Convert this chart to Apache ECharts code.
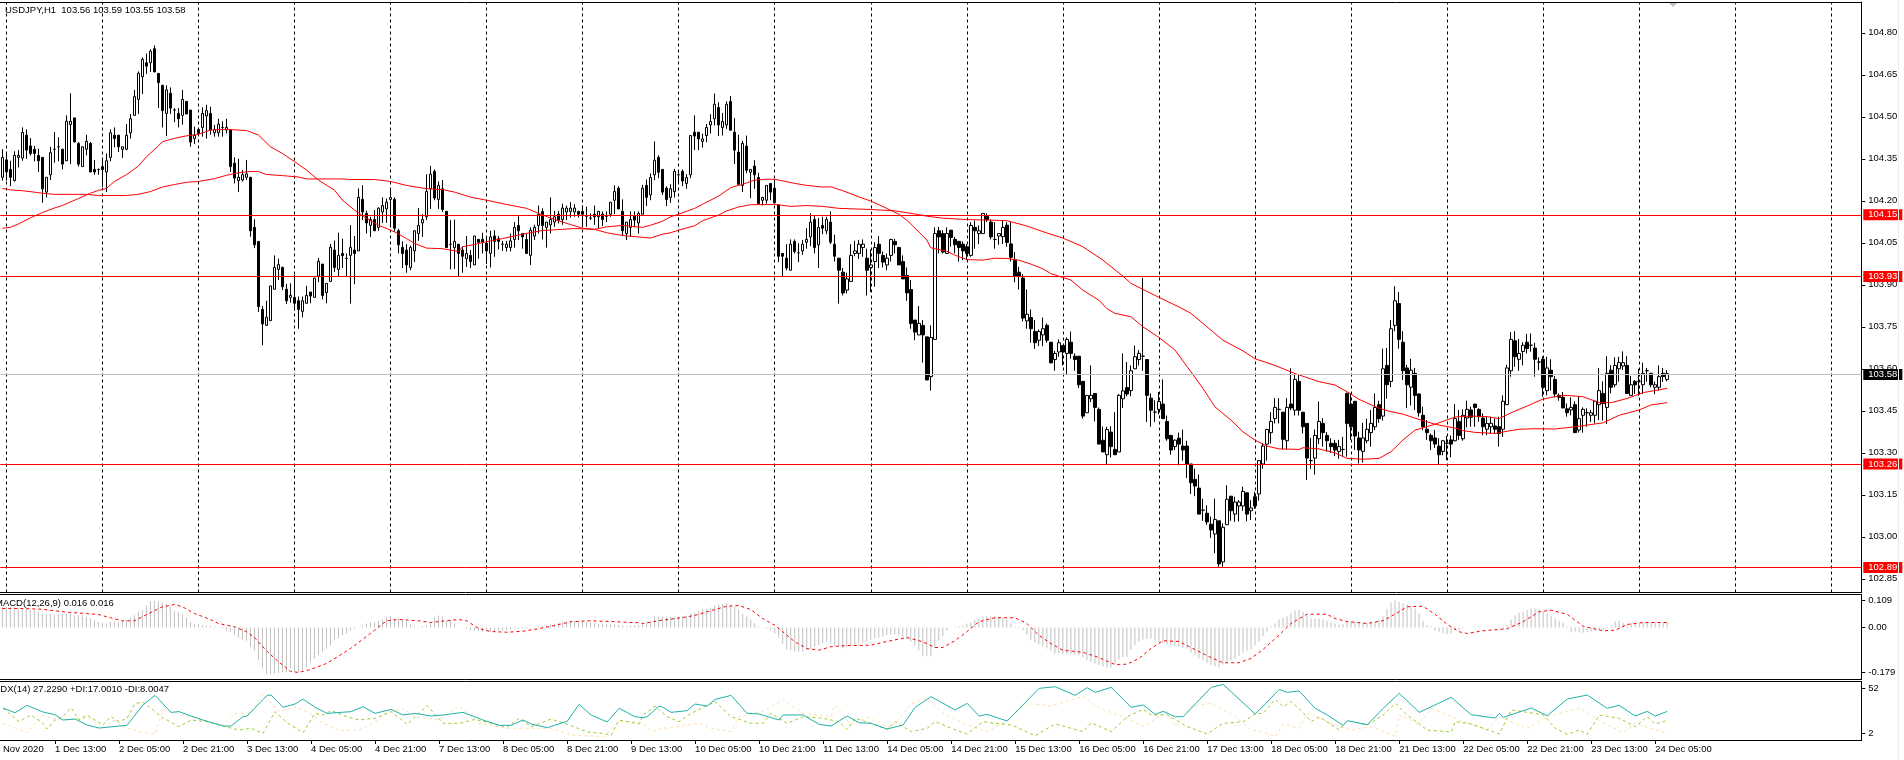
<!DOCTYPE html>
<html lang="en">
<head>
<meta charset="UTF-8">
<title>USDJPY,H1</title>
<script src="https://cdn.jsdelivr.net/npm/echarts@6/dist/echarts.min.js"></script>
<style>
    html, body { margin: 0; padding: 0; background: #fff; }
    #chart { width: 1904px; height: 760px; }
</style>
</head>
<body>
<div id="chart"></div>
<script type="text/javascript">
// candles, one value per hourly bar
var barOpen = [
104.284,104.346,104.312,104.272,104.355,104.353,104.434,104.396,104.384,104.362,
104.355,104.231,104.293,104.384,104.393,104.384,104.343,104.472,104.496,104.405,
104.322,104.384,104.405,104.312,104.312,104.322,104.303,104.355,104.434,104.434,
104.384,104.384,104.443,104.505,104.562,104.643,104.693,104.693,104.743,104.655,
104.612,104.512,104.584,104.524,104.512,104.505,104.555,104.524,104.422,104.455,
104.462,104.503,104.512,104.443,104.443,104.462,104.453,104.453,104.334,104.272,
104.274,104.284,104.284,104.105,104.055,103.812,103.755,103.772,103.884,103.955,
103.962,103.884,103.855,103.855,103.843,103.805,103.834,103.874,103.855,103.931,
103.974,103.872,103.912,104.024,103.955,104.012,103.994,104.005,104.024,104.021,
104.205,104.155,104.112,104.133,104.105,104.160,104.171,104.205,104.205,104.093,
104.033,104.024,103.962,104.021,104.083,104.121,104.143,104.243,104.305,104.205,
104.243,104.162,104.045,104.033,104.045,104.024,103.993,104.005,103.971,104.062,
104.062,104.048,104.012,104.074,104.064,104.045,104.033,104.033,104.062,104.112,
104.083,104.062,104.005,104.074,104.112,104.162,104.105,104.114,104.124,104.152,
104.133,104.160,104.162,104.160,104.162,104.162,104.145,104.138,104.152,104.143,
104.152,104.145,104.152,104.202,104.245,104.162,104.083,104.105,104.145,104.121,
104.152,104.255,104.221,104.293,104.355,104.312,104.245,104.212,104.233,104.293,
104.305,104.262,104.293,104.445,104.445,104.412,104.433,104.471,104.493,104.533,
104.462,104.471,104.555,104.445,104.374,104.255,104.395,104.302,104.324,104.283,
104.202,104.202,104.262,104.245,104.186,104.012,103.995,103.952,104.055,104.014,
104.021,104.052,104.071,104.133,104.043,104.112,104.093,104.124,104.045,103.995,
103.945,103.881,103.912,104.012,104.012,104.033,103.995,103.962,103.983,104.045,
104.005,103.971,104.005,104.055,104.033,103.983,103.933,103.883,103.774,103.721,
103.755,103.714,103.572,103.705,104.093,104.083,104.012,104.095,104.062,104.055,
104.045,104.036,104.005,104.105,104.083,104.083,104.145,104.124,104.062,104.074,
104.072,104.113,104.046,103.988,103.945,103.924,103.771,103.783,103.733,103.702,
103.721,103.755,103.695,103.633,103.660,103.683,103.655,103.695,103.645,103.645,
103.555,103.443,103.493,103.512,103.455,103.345,103.293,103.374,103.312,103.303,
103.493,103.533,103.522,103.600,103.633,103.645,103.633,103.495,103.445,103.455,
103.474,103.412,103.362,103.322,103.352,103.324,103.324,103.260,103.205,103.174,
103.095,103.084,103.045,103.010,103.057,102.910,103.043,103.145,103.081,103.110,
103.110,103.157,103.093,103.143,103.153,103.260,103.331,103.372,103.422,103.455,
103.445,103.343,103.474,103.452,103.555,103.445,103.405,103.272,103.281,103.350,
103.405,103.362,103.334,103.334,103.305,103.312,103.512,103.474,103.484,103.353,
103.305,103.343,103.372,103.393,103.472,103.431,103.612,103.555,103.755,103.833,
103.695,103.603,103.534,103.584,103.510,103.434,103.384,103.362,103.353,103.324,
103.305,103.334,103.346,103.343,103.412,103.350,103.424,103.453,103.474,103.455,
103.424,103.384,103.393,103.396,103.393,103.384,103.472,103.593,103.700,103.634,
103.662,103.695,103.684,103.674,103.624,103.634,103.522,103.595,103.562,103.505,
103.498,103.457,103.453,103.472,103.381,103.434,103.443,103.434,103.434,103.472,
103.512,103.462,103.595,103.543,103.600,103.610,103.612,103.505,103.555,103.555,
103.543,103.593,103.584,103.534,103.534,103.584,103.562];
var barHigh = [
104.384,104.374,104.343,104.377,104.381,104.462,104.455,104.424,104.396,104.386,
104.355,104.284,104.393,104.446,104.427,104.386,104.505,104.584,104.496,104.410,
104.393,104.436,104.410,104.346,104.315,104.346,104.369,104.455,104.462,104.436,
104.393,104.474,104.510,104.596,104.662,104.712,104.726,104.741,104.755,104.655,
104.615,104.612,104.605,104.531,104.531,104.596,104.555,104.524,104.465,104.457,
104.534,104.543,104.536,104.471,104.493,104.484,104.493,104.453,104.355,104.350,
104.310,104.346,104.284,104.134,104.055,103.824,103.843,103.896,104.005,103.993,
103.965,103.903,103.905,103.936,103.858,103.858,103.896,103.874,103.924,103.996,
103.974,103.905,104.046,104.058,104.086,104.065,104.012,104.113,104.074,104.244,
104.256,104.164,104.143,104.167,104.176,104.212,104.208,104.243,104.212,104.100,
104.055,104.045,104.040,104.095,104.174,104.152,104.295,104.324,104.312,104.269,
104.274,104.164,104.131,104.133,104.045,104.036,104.074,104.024,104.074,104.064,
104.086,104.071,104.093,104.095,104.074,104.057,104.057,104.083,104.124,104.145,
104.083,104.083,104.105,104.114,104.183,104.173,104.124,104.212,104.164,104.164,
104.190,104.183,104.195,104.188,104.164,104.183,104.179,104.155,104.183,104.164,
104.162,104.162,104.195,104.255,104.252,104.205,104.124,104.162,104.162,104.162,
104.257,104.276,104.298,104.412,104.362,104.312,104.252,104.259,104.314,104.309,
104.312,104.295,104.433,104.505,104.445,104.440,104.474,104.509,104.583,104.552,
104.514,104.555,104.574,104.495,104.436,104.414,104.433,104.312,104.345,104.300,
104.214,104.255,104.262,104.276,104.186,104.012,104.045,104.062,104.062,104.048,
104.060,104.102,104.155,104.145,104.138,104.143,104.143,104.162,104.079,103.995,
103.960,103.943,104.045,104.057,104.060,104.062,104.029,104.026,104.052,104.074,
104.019,104.012,104.064,104.064,104.036,104.005,103.962,103.917,103.774,103.824,
103.774,103.714,103.755,104.105,104.107,104.095,104.105,104.095,104.071,104.057,
104.055,104.045,104.124,104.129,104.112,104.155,104.155,104.133,104.124,104.083,
104.129,104.124,104.124,104.017,103.964,103.938,103.883,103.812,103.774,103.740,
103.783,103.762,103.695,103.664,103.705,103.683,103.712,103.733,103.655,103.645,
103.555,103.505,103.612,103.512,103.462,103.393,103.393,103.395,103.445,103.510,
103.655,103.624,103.612,103.683,103.667,103.924,103.633,103.512,103.488,103.517,
103.562,103.433,103.364,103.348,103.372,103.383,103.343,103.260,103.243,103.222,
103.136,103.112,103.072,103.136,103.057,103.048,103.184,103.145,103.143,103.131,
103.179,103.157,103.131,103.161,103.274,103.333,103.386,103.445,103.495,103.495,
103.445,103.495,103.602,103.583,103.579,103.445,103.405,103.353,103.383,103.483,
103.424,103.374,103.352,103.346,103.346,103.357,103.515,103.512,103.484,103.375,
103.407,103.422,103.453,103.512,103.486,103.672,103.674,103.774,103.895,103.874,
103.734,103.614,103.636,103.603,103.512,103.465,103.417,103.369,103.381,103.352,
103.346,103.360,103.362,103.474,103.453,103.455,103.486,103.465,103.474,103.459,
103.441,103.429,103.429,103.423,103.429,103.505,103.614,103.731,103.734,103.707,
103.695,103.724,103.726,103.693,103.641,103.645,103.643,103.634,103.574,103.512,
103.517,103.476,103.498,103.484,103.503,103.462,103.459,103.453,103.484,103.603,
103.555,103.645,103.613,103.641,103.643,103.662,103.645,103.574,103.560,103.600,
103.622,103.603,103.584,103.554,103.612,103.603,103.595];
var barLow = [
104.272,104.272,104.253,104.269,104.319,104.343,104.350,104.362,104.341,104.303,
104.193,104.212,104.274,104.336,104.341,104.312,104.343,104.331,104.410,104.322,
104.322,104.362,104.303,104.293,104.293,104.250,104.231,104.341,104.391,104.374,
104.353,104.381,104.422,104.505,104.510,104.581,104.653,104.660,104.660,104.531,
104.462,104.431,104.510,104.481,104.462,104.472,104.510,104.393,104.403,104.435,
104.429,104.422,104.436,104.429,104.429,104.429,104.441,104.303,104.262,104.231,
104.269,104.274,104.072,104.031,103.803,103.684,103.753,103.772,103.884,103.917,
103.881,103.831,103.836,103.808,103.743,103.784,103.834,103.834,103.855,103.910,
103.848,103.834,103.910,103.946,103.931,103.960,103.931,103.833,103.902,104.021,
104.131,104.083,104.071,104.093,104.093,104.121,104.121,104.105,104.090,104.012,
103.960,103.943,103.952,103.981,104.057,104.071,104.131,104.171,104.202,104.171,
104.160,104.033,103.955,103.957,103.931,103.943,103.964,103.960,103.971,103.993,
104.012,103.974,103.962,104.000,104.026,104.021,104.019,104.019,104.033,104.060,
104.029,104.012,103.971,104.060,104.083,104.062,104.033,104.083,104.107,104.119,
104.114,104.131,104.140,104.143,104.140,104.105,104.107,104.131,104.114,104.102,
104.110,104.124,104.143,104.152,104.171,104.074,104.060,104.071,104.105,104.083,
104.152,104.181,104.202,104.274,104.281,104.221,104.181,104.193,104.212,104.262,
104.252,104.243,104.281,104.381,104.381,104.390,104.409,104.440,104.469,104.431,
104.433,104.457,104.452,104.331,104.259,104.231,104.298,104.209,104.243,104.190,
104.183,104.190,104.202,104.190,103.981,103.931,103.952,103.952,104.012,103.981,
104.007,104.029,104.038,104.012,103.960,104.081,104.081,104.045,103.983,103.833,
103.862,103.869,103.912,104.002,103.993,104.000,103.862,103.874,103.893,103.960,
103.962,103.952,103.983,104.012,103.971,103.921,103.843,103.743,103.702,103.721,
103.622,103.560,103.522,103.705,104.012,104.012,104.010,104.036,104.012,103.983,
103.988,103.988,104.000,104.029,104.045,104.083,104.124,104.062,104.029,104.043,
104.046,104.036,103.983,103.909,103.883,103.769,103.743,103.693,103.671,103.681,
103.681,103.693,103.621,103.593,103.643,103.612,103.581,103.636,103.593,103.531,
103.422,103.443,103.481,103.412,103.331,103.303,103.260,103.283,103.293,103.303,
103.460,103.502,103.502,103.600,103.612,103.593,103.410,103.393,103.410,103.438,
103.422,103.343,103.293,103.310,103.255,103.272,103.210,103.153,103.145,103.081,
103.057,103.043,102.996,102.941,102.893,102.893,103.043,103.057,103.053,103.055,
103.093,103.055,103.060,103.100,103.129,103.243,103.272,103.333,103.405,103.405,
103.312,103.312,103.452,103.433,103.433,103.369,103.203,103.243,103.222,103.331,
103.322,103.304,103.300,103.288,103.279,103.286,103.286,103.346,103.310,103.262,
103.265,103.334,103.322,103.381,103.407,103.415,103.493,103.534,103.734,103.672,
103.560,103.460,103.469,103.453,103.429,103.381,103.346,103.310,103.317,103.260,
103.291,103.274,103.284,103.341,103.346,103.343,103.391,103.393,103.393,103.411,
103.363,103.363,103.369,103.367,103.322,103.357,103.472,103.572,103.607,103.593,
103.612,103.655,103.661,103.572,103.595,103.500,103.505,103.522,103.498,103.486,
103.460,103.429,103.434,103.372,103.372,103.372,103.393,103.410,103.405,103.417,
103.415,103.403,103.512,103.534,103.554,103.595,103.512,103.503,103.510,103.503,
103.510,103.554,103.534,103.510,103.522,103.553,103.555];
var barClose = [
104.355,104.303,104.284,104.362,104.362,104.444,104.381,104.369,104.369,104.343,
104.243,104.284,104.372,104.384,104.393,104.331,104.484,104.484,104.410,104.331,
104.393,104.412,104.303,104.303,104.312,104.312,104.343,104.443,104.422,104.393,
104.393,104.434,104.493,104.572,104.655,104.705,104.681,104.734,104.660,104.622,
104.522,104.596,104.531,104.524,104.493,104.562,104.510,104.410,104.434,104.441,
104.512,104.522,104.453,104.455,104.474,104.462,104.462,104.322,104.281,104.284,
104.293,104.296,104.093,104.043,103.822,103.760,103.784,103.896,103.962,103.972,
103.893,103.843,103.862,103.834,103.812,103.843,103.862,103.860,103.924,103.984,
103.862,103.905,104.034,103.962,104.005,104.004,103.994,104.033,104.012,104.212,
104.160,104.121,104.133,104.093,104.174,104.183,104.195,104.212,104.102,104.043,
104.012,103.971,104.033,104.093,104.112,104.133,104.233,104.295,104.210,104.255,
104.169,104.033,104.045,104.055,104.012,104.002,104.012,103.983,104.074,104.052,
104.052,104.021,104.071,104.055,104.055,104.045,104.045,104.057,104.105,104.093,
104.071,104.012,104.095,104.105,104.152,104.112,104.124,104.133,104.143,104.131,
104.174,104.174,104.174,104.174,104.152,104.152,104.145,104.138,104.143,104.162,
104.133,104.145,104.195,104.233,104.171,104.093,104.124,104.133,104.131,104.155,
104.245,104.212,104.283,104.345,104.302,104.231,104.205,104.243,104.305,104.293,
104.271,104.283,104.433,104.431,104.421,104.421,104.462,104.483,104.545,104.471,
104.483,104.545,104.452,104.381,104.259,104.405,104.309,104.312,104.293,104.190,
104.212,104.255,104.231,104.193,104.002,104.002,103.960,104.045,104.019,104.014,
104.045,104.062,104.124,104.033,104.105,104.102,104.133,104.052,104.002,103.952,
103.871,103.921,104.005,104.021,104.045,104.045,103.952,103.971,104.033,104.012,
103.981,103.995,104.062,104.043,103.971,103.921,103.871,103.762,103.731,103.762,
103.721,103.560,103.712,104.083,104.071,104.017,104.083,104.069,104.043,104.033,
104.021,104.012,104.112,104.093,104.093,104.155,104.133,104.071,104.062,104.083,
104.105,104.051,103.998,103.931,103.931,103.781,103.795,103.743,103.693,103.733,
103.743,103.702,103.621,103.655,103.693,103.660,103.705,103.655,103.633,103.543,
103.431,103.505,103.505,103.462,103.331,103.303,103.383,103.322,103.293,103.505,
103.521,103.510,103.593,103.643,103.655,103.645,103.505,103.452,103.445,103.483,
103.422,103.350,103.310,103.345,103.331,103.310,103.260,103.193,103.181,103.081,
103.095,103.053,103.024,103.062,102.903,103.034,103.134,103.093,103.124,103.124,
103.162,103.081,103.103,103.110,103.272,103.324,103.383,103.412,103.462,103.455,
103.348,103.462,103.460,103.562,103.452,103.393,103.281,103.272,103.362,103.412,
103.372,103.343,103.322,103.310,103.322,103.312,103.405,103.393,103.360,103.310,
103.353,103.384,103.405,103.462,103.422,103.600,103.543,103.743,103.843,103.705,
103.593,103.543,103.595,103.505,103.443,103.393,103.372,103.343,103.331,103.293,
103.343,103.334,103.331,103.422,103.362,103.434,103.455,103.427,103.462,103.429,
103.393,103.405,103.405,103.384,103.369,103.484,103.603,103.705,103.643,103.655,
103.684,103.672,103.684,103.634,103.624,103.534,103.603,103.572,103.510,103.498,
103.460,103.443,103.462,103.372,103.422,103.455,103.443,103.443,103.484,103.522,
103.476,103.584,103.534,103.612,103.622,103.622,103.512,103.543,103.543,103.555,
103.584,103.593,103.543,103.543,103.572,103.572,103.583];

// moving averages, read at the bends of each line
var maFastBars = [0,2,4,7,10,13,15,19,22,24,26,28,31,34,36,39,40,43,46,49,52,56,61,64,67,70,73,76,79,83,85,88,91,94,98,101,103,106,110,114,115,118,121,125,130,133,135,140,143,148,151,155,160,162,165,167,169,173,175,179,182,185,188,191,193,198,201,205,207,210,214,217,221,224,226,229,231,232,236,238,241,245,248,251,254,257,260,262,265,267,270,274,276,278,282,285,289,293,297,300,303,307,310,313,316,319,324,325,329,333,336,340,344,347,350,353,358,363,367,371,374,377,381,385,389,391,395,399,402,406,410,416];
var maFastValues = [104.102,104.105,104.117,104.139,104.158,104.174,104.183,104.208,104.227,104.237,104.244,104.269,104.293,104.324,104.357,104.396,104.411,104.423,104.432,104.437,104.453,104.455,104.451,104.435,104.393,104.369,104.340,104.310,104.274,104.238,104.202,104.167,104.137,104.113,104.089,104.065,104.048,104.031,104.029,104.019,104.036,104.044,104.054,104.065,104.081,104.089,104.094,104.098,104.101,104.098,104.107,104.112,104.105,104.113,104.127,104.143,104.152,104.173,104.188,104.217,104.247,104.259,104.274,104.277,104.277,104.262,104.255,104.249,104.250,104.236,104.214,104.199,104.173,104.152,104.131,104.089,104.060,104.032,104.020,104.006,103.990,103.988,103.995,103.994,103.988,103.974,103.957,103.940,103.926,103.917,103.881,103.845,103.815,103.798,103.786,103.750,103.712,103.667,103.589,103.530,103.464,103.417,103.375,103.345,103.324,103.314,103.312,103.318,103.314,103.300,103.280,103.277,103.280,103.304,103.346,103.381,103.402,103.428,103.431,103.429,103.422,103.443,103.467,103.492,103.503,103.505,103.500,103.479,103.479,103.494,103.515,103.530];
var maSlowBars = [0,2,5,8,10,13,21,24,31,34,37,40,43,46,49,53,56,59,62,64,66,70,74,76,83,85,87,93,97,101,106,110,113,117,121,126,131,134,138,142,145,148,151,155,162,165,167,169,173,175,179,181,184,187,193,197,201,205,209,217,223,228,231,235,241,249,251,256,261,265,270,275,280,282,289,294,297,300,305,310,313,318,323,329,333,336,339,343,346,350,354,358,363,365,368,373,376,379,383,388,393,396,400,404,409,412,416];
var maSlowValues = [104.244,104.239,104.236,104.231,104.227,104.223,104.223,104.219,104.219,104.223,104.233,104.249,104.258,104.266,104.269,104.279,104.291,104.300,104.305,104.304,104.294,104.290,104.285,104.278,104.278,104.278,104.276,104.276,104.269,104.255,104.243,104.240,104.231,104.213,104.202,104.187,104.173,104.155,104.133,104.115,104.102,104.098,104.086,104.076,104.067,104.081,104.086,104.095,104.111,104.129,104.149,104.164,104.178,104.186,104.187,104.180,104.183,104.180,104.173,104.169,104.164,104.153,104.145,104.138,104.133,104.130,104.129,104.110,104.085,104.067,104.036,103.988,103.931,103.905,103.855,103.821,103.798,103.762,103.702,103.664,103.636,103.612,103.583,103.554,103.542,103.518,103.491,103.465,103.450,103.438,103.419,103.402,103.388,103.379,103.373,103.369,103.377,103.384,103.386,103.385,103.393,103.399,103.407,103.434,103.453,103.471,103.479];

// horizontal levels of the price pane
var levelValues = [104.15, 103.93, 103.26, 102.89];
var lastPrice = 103.58;
var priceTicks = [102.85,103.00,103.15,103.30,103.45,103.60,103.75,103.90,104.05,104.20,104.35,104.50,104.65,104.80];

// time axis
var firstAxisLabel = 'Nov 2020';
var timeLabels = ['1 Dec 13:00','2 Dec 05:00','2 Dec 21:00','3 Dec 13:00','4 Dec 05:00','4 Dec 21:00','7 Dec 13:00','8 Dec 05:00','8 Dec 21:00','9 Dec 13:00','10 Dec 05:00','10 Dec 21:00','11 Dec 13:00','14 Dec 05:00','14 Dec 21:00','15 Dec 13:00','16 Dec 05:00','16 Dec 21:00','17 Dec 13:00','18 Dec 05:00','18 Dec 21:00','21 Dec 13:00','22 Dec 05:00','22 Dec 21:00','23 Dec 13:00','24 Dec 05:00'];

// MACD histogram, one value per bar, and its signal line
var macdHist = [
.083,.083,.083,.083,.080,.077,.077,.072,.069,.063,
.056,.053,.053,.053,.056,.056,.056,.056,.049,.049,
.049,.043,.036,.029,.023,.019,.016,.023,.023,.023,
.027,.032,.040,.049,.064,.069,.089,.104,.107,.105,
.100,.093,.080,.067,.061,.053,.040,.023,.016,.013,
.009,.008,.007,.003,.001,-.003,-.011,-.017,-.031,-.040,
-.048,-.053,-.077,-.091,-.131,-.164,-.184,-.189,-.184,-.181,
-.179,-.179,-.164,-.177,-.177,-.171,-.157,-.137,-.124,-.111,
-.097,-.084,-.071,-.051,-.044,-.031,-.024,-.011,-.004,0,
.005,.016,.021,.021,.027,.032,.040,.045,.035,.036,
.032,.023,.013,.005,.003,.005,.008,.019,.040,.048,
.043,.027,.029,.016,0,0,-.005,-.011,-.013,-.013,
-.017,-.017,-.017,-.017,-.013,-.013,-.011,-.008,-.005,-.005,
-.005,-.004,-.003,-.001,.003,.005,.008,.013,.016,.019,
.021,.024,.027,.027,.024,.024,.021,.021,.019,.016,
.016,.013,.013,.013,.011,.008,.005,.008,.008,.011,
.013,.019,.027,.045,.043,.043,.043,.043,.043,.043,
.045,.048,.056,.059,.067,.073,.075,.080,.087,.093,
.094,.096,.090,.083,.072,.056,.045,.032,.016,.003,
-.001,-.005,-.011,-.024,-.040,-.064,-.088,-.092,-.096,-.097,
-.097,-.091,-.084,-.077,-.071,-.063,-.057,-.064,-.071,-.077,
-.084,-.077,-.071,-.067,-.064,-.060,-.057,-.051,-.044,-.040,
-.037,-.031,-.028,-.028,-.031,-.037,-.044,-.057,-.071,-.091,
-.115,-.115,-.115,-.077,-.051,-.035,-.013,0,.003,.005,
.008,.016,.021,.029,.035,.043,.045,.045,.045,.043,
.037,.032,.016,.003,-.003,-.011,-.029,-.051,-.059,-.067,
-.075,-.084,-.093,-.104,-.104,-.107,-.107,-.107,-.109,-.111,
-.120,-.131,-.137,-.144,-.151,-.157,-.160,-.161,-.145,-.128,
-.119,-.117,-.090,-.070,-.057,-.048,-.044,-.045,-.048,-.059,
-.064,-.067,-.071,-.075,-.077,-.081,-.084,-.100,-.111,-.123,
-.131,-.143,-.151,-.156,-.160,-.148,-.137,-.131,-.124,-.113,
-.101,-.093,-.088,-.072,-.057,-.035,-.017,.005,.016,.032,
.040,.045,.059,.069,.072,.063,.045,.037,.035,.035,
.032,.027,.020,.016,.012,.013,.021,.024,.024,.021,
.019,.019,.021,.023,.032,.045,.072,.101,.109,.103,
.096,.093,.085,.076,.056,.027,.009,.005,-.013,-.017,
-.024,-.027,-.024,-.013,-.011,-.003,0,0,.003,.003,
0,0,.001,0,-.003,-.005,.011,.032,.049,.059,
.063,.069,.076,.076,.072,.067,.056,.045,.035,.027,
.019,.003,-.019,-.016,-.019,-.021,-.019,-.016,-.013,-.013,
-.011,.003,.008,.024,.027,.019,.016,.016,.016,.016,
.019,.021,.021,.019,.019,.020,.019];
var macdSignalBars = [0,2,5,10,13,17,21,24,27,30,33,35,38,40,43,45,48,52,54,58,61,63,66,69,72,74,77,81,84,87,90,93,96,99,104,107,111,114,116,119,122,126,130,134,138,142,147,152,159,160,164,170,173,177,181,184,187,190,193,195,198,201,204,207,211,217,221,226,230,233,235,238,241,244,248,253,256,259,262,265,270,274,278,281,284,287,290,294,298,302,305,309,312,315,319,322,326,331,333,336,341,345,348,351,355,358,361,364,366,370,376,380,384,387,391,395,400,403,406,410,416];
var macdSignalValues = [.076,.076,.076,.073,.067,.060,.056,.052,.039,.027,.027,.043,.067,.083,.092,.083,.056,.032,.016,.003,-.017,-.040,-.093,-.137,-.175,-.180,-.168,-.144,-.115,-.084,-.048,-.011,.027,.032,.027,.020,.027,.032,.027,-.004,-.016,-.019,-.015,-.005,.008,.023,.027,.024,.019,.016,.027,.040,.048,.067,.085,.088,.072,.036,.009,-.017,-.057,-.084,-.091,-.077,-.072,-.071,-.056,-.040,-.057,-.080,-.080,-.053,-.017,.023,.039,.039,.016,-.031,-.064,-.091,-.099,-.120,-.148,-.147,-.124,-.084,-.053,-.056,-.088,-.120,-.141,-.141,-.124,-.088,-.031,.016,.053,.053,.036,.024,.016,.027,.053,.083,.085,.053,.013,-.017,-.024,-.013,-.005,.023,.063,.069,.053,.005,-.013,-.011,.012,.020,.020];
var macdTicks = [-0.179, 0, 0.109];
var macdTickLabels = ['-0.179', '0.00', '0.109'];

// ADX lines, read at the bends
var adxBars = [0,3,6,10,13,15,18,21,24,29,31,35,38,42,44,47,50,55,57,60,61,66,67,70,73,75,78,81,87,90,93,97,100,103,107,110,115,120,124,127,130,132,136,141,144,147,151,154,158,160,161,164,165,167,171,173,176,178,182,186,189,194,195,200,204,207,211,214,217,221,225,228,232,238,241,244,246,251,259,263,268,271,273,277,282,285,288,290,293,295,302,305,313,315,319,321,324,328,331,335,336,341,345,349,354,362,367,373,374,375,382,386,391,396,401,404,408,411,413,416];
var adxValues = [30.1,24.9,33.1,25.7,22.7,16.8,17.9,11.3,7.9,10.1,10.9,33.5,44.2,25.3,26.1,21.2,16.8,10.1,10.1,20.5,21.2,44.2,44.6,30.9,34.6,40.1,30.9,24.2,26.1,31.6,24.2,28.6,22.4,24.2,21.2,22.4,25.3,16.8,10.9,10.9,16.8,12.4,8.3,15.3,34.2,22.4,14.6,29.8,20.5,19.4,20.5,32.3,30.9,25.3,27.2,34.6,32.3,39.7,44.2,24.2,23.5,16.8,22.4,22.4,12,10.1,21.2,13.8,13.1,6.8,11.3,30.9,42.7,27.9,35.3,21.2,23.1,15.7,52,53.8,44.2,52.7,47.5,53.1,30.9,33.5,23.1,26.4,20.5,20.5,53.1,56.4,23.5,32.3,50.8,47.5,49,29.8,22.4,10.9,16.1,11.6,29.8,46.4,25.3,42,22.7,19,24.2,19.8,30.1,21.6,40.1,44.6,29.8,33.1,21.2,26.4,21.2,26.4];
var plusDiBars = [0,1,4,7,10,11,13,15,17,19,21,23,25,27,29,31,33,35,37,40,41,44,47,51,55,59,62,65,68,71,75,78,80,82,86,89,93,97,101,106,110,114,118,122,126,129,132,137,142,146,150,152,154,159,160,163,166,169,172,178,182,187,190,192,196,200,205,209,211,213,217,221,223,227,231,233,237,241,245,248,252,258,263,270,272,277,281,285,287,291,296,301,305,310,313,315,318,320,322,325,327,329,334,336,341,345,348,351,356,362,363,367,374,377,380,385,388,391,394,396,399,404,408,411,413,416];
var plusDiValues = [29.8,26.1,15,22.4,13.1,6.8,16.8,20.5,30.5,16.8,22.4,16.8,11.3,20.5,15,18.7,35.3,36.4,29.8,18.7,16.8,9.4,16.8,15,10.1,5.7,7.6,2,26.1,13.8,2.7,24.2,22.4,27.2,20.5,16.8,18.7,26.1,12,32.7,13.1,13.1,17.5,13.1,8.7,18.7,9.4,17.9,10.5,3.5,2,-0.2,16.8,12.4,22.4,32.3,20.5,15,24.2,37.2,20.5,13.1,13.1,24.2,13.1,20.5,18.7,15,6.4,18.7,13.1,6.4,15,3.9,7.6,15,7.6,1.3,15,13.1,11.3,-0.6,12.4,3.9,13.8,3.9,20.5,28.6,22.4,22.4,9.4,1.3,13.1,15,23.5,24.2,39.7,31.6,37.2,24.9,15,20.5,5.7,16.1,11.3,22.4,35.3,22.4,5.7,3.5,15,12.4,1.3,27.9,26.1,22.4,7.6,0.9,5.7,0.9,22.4,18.7,9.4,20.5,12.4,16.4];
var minusDiBars = [0,2,6,10,14,18,22,25,28,30,34,38,40,43,48,55,58,62,65,69,73,76,80,84,89,93,96,100,103,109,114,119,126,132,137,142,150,154,159,160,162,165,169,174,177,182,184,190,195,200,207,208,212,216,222,227,231,235,241,246,251,256,262,270,274,280,285,291,293,297,302,308,312,315,318,320,324,326,332,337,342,348,349,354,357,364,371,374,381,386,394,401,405,408,413,416];
var minusDiValues = [13.1,10.1,2.7,22.4,16.8,18.7,18.7,7.6,16.8,9.4,3.9,0.9,27.9,24.2,18.7,11.3,24.2,24.2,45.7,26.1,31.6,26.1,13.1,5,5.7,15,24.2,29.8,20.5,16.8,32.3,13.1,7.6,7.6,7.6,0.2,-1.7,15,15,13.1,3.9,7.6,9.4,13.1,7.6,3.9,20.5,26.8,39,24.2,20.5,33.5,11.3,19.8,7.6,34.6,40.9,24.2,11.3,3.9,16.8,35.3,32.3,43.4,29.8,20.5,9.4,26.1,9.4,32.3,35.3,20.5,5.7,3.9,-1.7,12.4,7.6,24.2,13.1,5.7,9.4,-1,22.4,12.4,29.8,16.8,5.7,20.5,7.6,20.5,29.8,11.3,2.7,13.1,5.7,2.7];
var adxTicks = [2, 52];

var title = 'USDJPY,H1  103.56 103.59 103.55 103.58';
var macdTitle = 'MACD(12,26,9) 0.016 0.016';
var adxTitle = 'ADX(14) 27.2290 +DI:17.0010 -DI:8.0047';

var barCount = 465;
var labelFont = '"Liberation Sans", sans-serif';
var labelSize = 9.5;

var categories = [];
var tickBars = {};
for (var i = 0; i < barCount; i++) categories.push('');
categories[0] = firstAxisLabel;
timeLabels.forEach(function (t, n) {
    categories[13 + 16 * n] = t;
    tickBars[13 + 16 * n] = true;
});

// day separators every 24 bars
var separatorLines = [];
for (var b = 1; b < barCount; b += 24) separatorLines.push({xAxis: b});

function zip(bars, values) {
    return bars.map(function (b, n) { return [b, values[n]]; });
}

var candleData = barOpen.map(function (o, n) {
    return [o, barClose[n], barLow[n], barHigh[n]];
});

function tagLine(value, back) {
    return {
        yAxis: value,
        lineStyle: {color: back === '#000000' ? '#c0c0c0' : '#ff0000', width: 1, type: 'solid'},
        label: {
            show: true, position: 'end', distance: 2, formatter: value.toFixed(2),
            color: '#ffffff', backgroundColor: back, padding: [1, 5, 0, 5],
            fontSize: labelSize, fontFamily: labelFont, lineHeight: 10
        }
    };
}

function axisX(index, showLabels) {
    return {
        type: 'category', gridIndex: index, data: categories, boundaryGap: true,
        axisLine: {show: false, onZero: false},
        axisTick: {
            show: showLabels, alignWithLabel: true, length: 4, lineStyle: {color: '#000'},
            interval: function (n) { return !!tickBars[n]; }
        },
        axisLabel: {
            show: showLabels, align: 'left', margin: 4, color: '#000', fontSize: labelSize, fontFamily: labelFont,
            showMinLabel: true, showMaxLabel: true,
            interval: function (n) { return n === 0 || !!tickBars[n]; }
        },
        splitLine: {show: false}
    };
}

function axisY(index, min, max, ticks, fmt) {
    return {
        type: 'value', gridIndex: index, position: 'right', min: min, max: max, scale: true,
        axisLine: {show: true, lineStyle: {color: '#000', width: 1}},
        axisTick: {show: true, length: 4, lineStyle: {color: '#000'}, customValues: ticks},
        axisLabel: {
            show: true, margin: 7, color: '#000', fontSize: labelSize, fontFamily: labelFont,
            customValues: ticks, formatter: fmt
        },
        splitLine: {show: false}
    };
}

function rule(y) {
    return {type: 'line', z: 20, shape: {x1: 0, y1: y, x2: 1862, y2: y}, style: {stroke: '#000', lineWidth: 1}};
}

var chart = echarts.init(document.getElementById('chart'));
chart.setOption({
    animation: false,
    backgroundColor: '#ffffff',
    grid: [
        {left: 0.3, width: 1861, top: 2, height: 590.5},
        {left: 0.3, width: 1861, top: 594.5, height: 84.5},
        {left: 0.3, width: 1861, top: 681.5, height: 58.5}
    ],
    xAxis: [axisX(0, false), axisX(1, false), axisX(2, true)],
    yAxis: [
        axisY(0, 102.801, 104.91, priceTicks, function (v) { return v.toFixed(2); }),
        axisY(1, -0.206, 0.132, macdTicks, function (v) { return macdTickLabels[macdTicks.indexOf(v)]; }),
        axisY(2, -5.4, 59.6, adxTicks, function (v) { return String(v); })
    ],
    series: [
        {
            type: 'line', xAxisIndex: 0, yAxisIndex: 0, data: [], z: 1,
            markLine: {
                silent: true, symbol: ['none', 'none'], z: 1, label: {show: false},
                lineStyle: {color: '#000', type: [3, 3], width: 1},
                data: separatorLines
            }
        },
        {
            type: 'candlestick', xAxisIndex: 0, yAxisIndex: 0, data: candleData, z: 3, barWidth: 3,
            itemStyle: {color: '#ffffff', color0: '#000000', borderColor: '#000000', borderColor0: '#000000', borderWidth: 1},
            markLine: {
                silent: true, symbol: ['none', 'none'], z: 6,
                data: levelValues.map(function (v) { return tagLine(v, '#ff0000'); }).concat([tagLine(lastPrice, '#000000')])
            }
        },
        {
            type: 'line', xAxisIndex: 0, yAxisIndex: 0, data: zip(maFastBars, maFastValues), z: 5,
            showSymbol: false, lineStyle: {color: '#ff0000', width: 1}
        },
        {
            type: 'line', xAxisIndex: 0, yAxisIndex: 0, data: zip(maSlowBars, maSlowValues), z: 5,
            showSymbol: false, lineStyle: {color: '#ff0000', width: 1}
        },
        {
            type: 'bar', xAxisIndex: 1, yAxisIndex: 1, data: macdHist, barWidth: 1,
            itemStyle: {color: '#c0c0c0'}
        },
        {
            type: 'line', xAxisIndex: 1, yAxisIndex: 1, data: zip(macdSignalBars, macdSignalValues), z: 4,
            showSymbol: false, lineStyle: {color: '#ff0000', width: 1, type: [3, 3]}
        },
        {
            type: 'line', xAxisIndex: 2, yAxisIndex: 2, data: zip(minusDiBars, minusDiValues),
            showSymbol: false, lineStyle: {color: '#ffdead', width: 1, type: [3, 3]}
        },
        {
            type: 'line', xAxisIndex: 2, yAxisIndex: 2, data: zip(plusDiBars, plusDiValues),
            showSymbol: false, lineStyle: {color: '#9acd32', width: 1, type: [3, 3]}
        },
        {
            type: 'line', xAxisIndex: 2, yAxisIndex: 2, data: zip(adxBars, adxValues), z: 4,
            showSymbol: false, lineStyle: {color: '#20b2aa', width: 1}
        }
    ],
    graphic: [
        rule(2.5), rule(592.5), rule(594.5), rule(679.5), rule(681.5), rule(740.5),
        {type: 'line', z: 20, shape: {x1: 1898.5, y1: 0, x2: 1898.5, y2: 760}, style: {stroke: '#ececec', lineWidth: 1}},
        {type: 'polygon', z: 20, shape: {points: [[1669, 3], [1677, 3], [1673, 7]]}, style: {fill: '#c0c0c0'}},
        {type: 'text', z: 20, x: 5, y: 5, style: {text: title, fill: '#000', font: labelSize + 'px ' + labelFont}},
        {type: 'text', z: 20, x: -5, y: 598, style: {text: macdTitle, fill: '#000', font: labelSize + 'px ' + labelFont}},
        {type: 'text', z: 20, x: -6, y: 684.5, style: {text: adxTitle, fill: '#000', font: labelSize + 'px ' + labelFont}}
    ]
});
</script>
</body>
</html>
